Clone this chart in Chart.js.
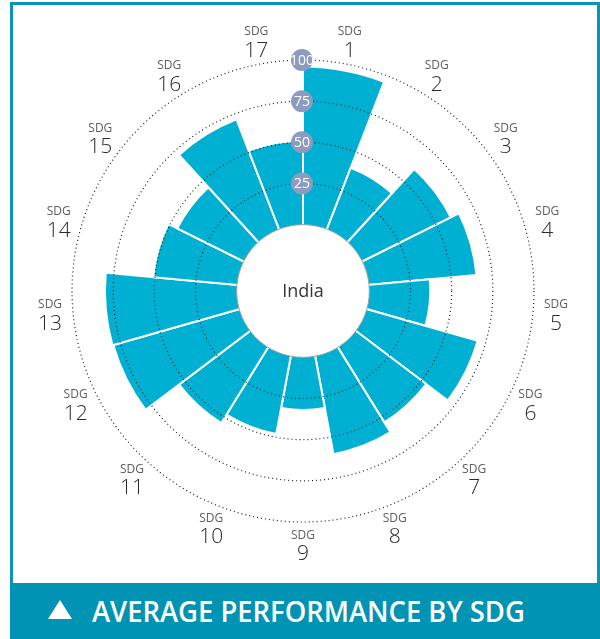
<!DOCTYPE html>
<html>
<head>
<meta charset="utf-8">
<title>Average performance by SDG</title>
<script src="https://cdn.jsdelivr.net/npm/chart.js@4.4.1/dist/chart.umd.min.js"></script>
<style>
    html, body { margin: 0; padding: 0; background: #fff; }
    body { width: 600px; height: 639px; position: relative; overflow: hidden; font-family: "Open Sans", sans-serif; }
    #marco { position: absolute; left: 10px; top: 2px; width: 590px; height: 581px; box-sizing: border-box;
             border: 3px solid #0a95b4; border-bottom: none; }
    #banda { position: absolute; left: 10px; top: 583px; width: 590px; height: 56px; background: #0093b3; color: #fff;
             font-family: "Open Sans", sans-serif; font-weight: 600; white-space: nowrap; }
    #banda .flecha { position: absolute; left: 38px; top: 17px; width: 0; height: 0;
                     border-left: 12px solid transparent; border-right: 12px solid transparent; border-bottom: 19px solid #fff; }
    #banda .texto { position: absolute; left: 82px; top: 8px; font-size: 29px; line-height: 40px;
                    transform: scaleX(0.945); transform-origin: 0 50%; }
    #grafico { position: absolute; left: 0; top: 0; }
</style>
</head>
<body>
<div id="marco"></div>
<div id="banda"><span class="flecha"></span><span class="texto">AVERAGE PERFORMANCE BY SDG</span></div>
<canvas id="grafico" width="600" height="639"></canvas>

<script>
// Goal numbers, going clockwise from the top
const sdgLabels = ['1', '2', '3', '4', '5', '6', '7', '8', '9', '10', '11', '12', '13', '14', '15', '16', '17'];
// Average score per goal (0-100)
const sdgScores = [96, 40, 60, 65.5, 37, 70, 53.5, 60.5, 32, 48, 54, 79.5, 80, 51, 45, 71.5, 51];
// Dotted reference rings and their badges
const ringValues = [25, 50, 75, 100];
const centreLabel = 'India';

// Negative minimum so that 0 sits on the edge of the white hole
const scaleMin = -40.3;
const scaleMax = 100;

const barColor = '#00b0d3';
const badgeColor = '#8c9bbe';

// Rings, hole, badges and goal labels are drawn on top of the bars
const overlayPlugin = {
    id: 'overlay',
    afterDatasetsDraw(chart) {
        const ctx = chart.ctx;
        const scale = chart.scales.r;
        const cx = scale.xCenter;
        const cy = scale.yCenter;

        ctx.save();

        // dotted rings
        ctx.strokeStyle = '#1e1e1e';
        ctx.lineWidth = 1.2;
        ctx.setLineDash([1, 3]);
        ringValues.forEach(v => {
            ctx.beginPath();
            ctx.arc(cx, cy, scale.getDistanceFromCenterForValue(v), 0, Math.PI * 2);
            ctx.stroke();
        });
        ctx.setLineDash([]);

        // white hole with the country name
        const hole = scale.getDistanceFromCenterForValue(0);
        ctx.beginPath();
        ctx.arc(cx, cy, hole, 0, Math.PI * 2);
        ctx.fillStyle = '#fff';
        ctx.fill();
        ctx.strokeStyle = '#a0a0a0';
        ctx.lineWidth = 1;
        ctx.stroke();

        ctx.textAlign = 'center';
        ctx.textBaseline = 'middle';
        ctx.fillStyle = '#333';
        ctx.font = '18px "Open Sans", sans-serif';
        ctx.fillText(centreLabel, cx, cy + 1);

        // value badges on the vertical axis
        ringValues.forEach(v => {
            const y = cy - scale.getDistanceFromCenterForValue(v);
            ctx.beginPath();
            ctx.arc(cx - 1, y, 11, 0, Math.PI * 2);
            ctx.fillStyle = badgeColor;
            ctx.fill();
            ctx.fillStyle = '#fff';
            ctx.font = '14px "Liberation Sans Narrow", "Open Sans", sans-serif';
            ctx.fillText(String(v), cx - 1, y + 1);
        });

        // "SDG n" labels outside each sector
        sdgLabels.forEach((label, i) => {
            const pos = scale.getPointPosition(i + 0.5, scale.drawingArea + 23);
            ctx.fillStyle = '#5e5e5e';
            ctx.font = '12px "Open Sans", sans-serif';
            ctx.fillText('SDG', pos.x, pos.y - 9.5);
            ctx.fillStyle = '#2a2a2a';
            ctx.font = '300 21px "Open Sans", sans-serif';
            ctx.fillText(label, pos.x, pos.y + 9.5);
        });

        ctx.restore();
    }
};

function crearGrafico() {
    const ctx = document.getElementById('grafico').getContext('2d');

    new Chart(ctx, {
        type: 'polarArea',
        data: {
            labels: sdgLabels,
            datasets: [{
                data: sdgScores,
                backgroundColor: barColor,
                borderColor: '#ffffff',
                borderWidth: 2
            }]
        },
        options: {
            responsive: false,
            animation: false,
            layout: {
                padding: { left: 72, top: 60, right: 65, bottom: 116 }
            },
            plugins: {
                legend: { display: false },
                tooltip: { enabled: false }
            },
            scales: {
                r: {
                    min: scaleMin,
                    max: scaleMax,
                    ticks: { display: false },
                    grid: { display: false },
                    angleLines: { display: false },
                    pointLabels: { display: false }
                }
            }
        },
        plugins: [overlayPlugin]
    });
}

document.addEventListener('DOMContentLoaded', crearGrafico);
</script>
</body>
</html>
